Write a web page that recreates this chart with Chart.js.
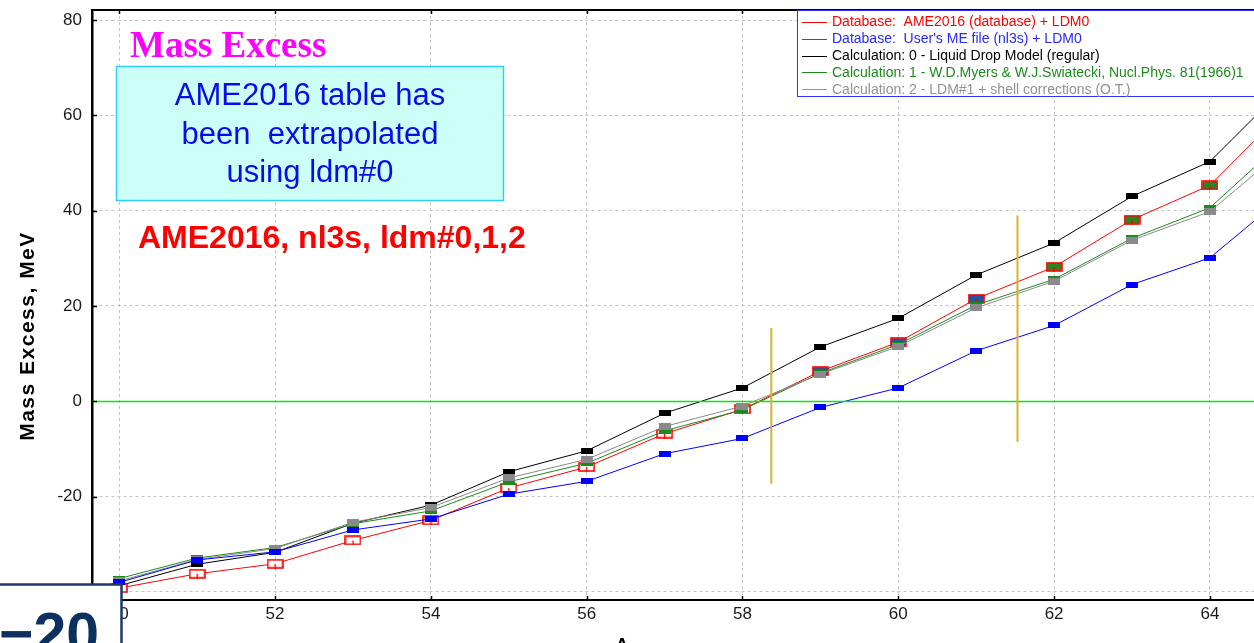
<!DOCTYPE html>
<html>
<head>
<meta charset="utf-8">
<title>Mass Excess</title>
<script src="https://cdn.jsdelivr.net/npm/chart.js@4/dist/chart.umd.min.js"></script>
<style>
  html, body { margin: 0; padding: 0; background: #ffffff; overflow: hidden; }
  #wrap { width: 1254px; height: 643px; position: relative; }
</style>
</head>
<body>
<div id="wrap"><canvas id="chart" width="1254" height="643"></canvas></div>
<script>
// Mass number A
const massNumbers = [50, 51, 52, 53, 54, 55, 56, 57, 58, 59, 60, 61, 62, 63, 64, 65];

// Mass excess, MeV
const ame2016Ldm0      = [-39.2, -36.2, -34.1, -29.2, -25.0, -18.2, -13.8, -6.8, -1.7, 6.3, 12.4, 21.5, 28.2, 38.1, 45.3, 61.7];
const nl3sLdm0         = [-38.0, -33.3, -31.6, -27.0, -24.7, -19.5, -16.8, -11.0, -7.8, -1.3, 2.8, 10.6, 15.9, 24.5, 30.1, 43.7];
const ldm0Regular      = [-38.7, -34.2, -31.7, -25.6, -21.8, -14.8, -10.4, -2.5, 2.8, 11.4, 17.4, 26.5, 33.2, 43.0, 50.3, 66.6];
const ldm1Myers        = [-37.2, -32.9, -30.7, -25.7, -23.0, -16.9, -13.0, -6.2, -1.8, 5.9, 11.9, 20.2, 25.6, 34.2, 40.6, 55.5];
const ldm2ShellCorr    = [-37.7, -33.2, -30.9, -25.4, -22.3, -16.1, -12.2, -5.3, -1.0, 5.7, 11.5, 19.6, 25.2, 33.8, 39.8, 53.6];

// Origin of each AME2016 point: measured table value or extrapolated
const ame2016Origin = ['table', 'table', 'table', 'table', 'table', 'table', 'table', 'table', 'table',
                       'nl3s', 'nl3s', 'nl3s', 'ldm', 'ldm', 'ldm', 'ldm'];

const seriesLabels = [
  'Database:  AME2016 (database) + LDM0',
  "Database:  User's ME file (nl3s) + LDM0",
  'Calculation: 0 - Liquid Drop Model (regular)',
  'Calculation: 1 - W.D.Myers & W.J.Swiatecki, Nucl.Phys. 81(1966)1',
  'Calculation: 2 - LDM#1 + shell corrections (O.T.)'
];

// Vertical marker segments: [A, lower ME, upper ME]
const markerSegments = [[58.37, -17.3, 15.4], [61.53, -8.5, 39.0]];

const yTickValues = [-40, -20, 0, 20, 40, 60, 80];
const xTickValues = [50, 52, 54, 56, 58, 60, 62, 64];

const COLORS = {
  red: '#ff0000', blue: '#0000ff', black: '#000000', green: '#1e8a1e', gray: '#8a8a8a'
};
const LEGEND_TEXT = ['#ff0000', '#2828ff', '#000000', '#1e8a1e', '#929292'];
const LEGEND_LINE = ['#ff0000', '#3a3aff', '#000000', '#1e8a1e', '#929292'];

function solidMark(w, h, fill) {
  const c = document.createElement('canvas');
  c.width = w; c.height = h;
  const g = c.getContext('2d');
  g.fillStyle = fill;
  g.fillRect(0, 0, w, h);
  return c;
}
function openMark(fill) {
  const c = document.createElement('canvas');
  c.width = 17; c.height = 10;
  const g = c.getContext('2d');
  g.fillStyle = fill;
  g.fillRect(1, 1, 15, 8);
  g.strokeStyle = '#ff0000';
  g.lineWidth = 1.6;
  g.strokeRect(1, 1, 15, 8);
  g.lineWidth = 1.4;
  g.beginPath();
  g.moveTo(8.5, 5);
  g.lineTo(8.5, 10);
  g.stroke();
  return c;
}
const redMarks = { table: openMark('#ffffff'), nl3s: openMark('#1f56a6'), ldm: openMark('#238a23') };

function pts(values) {
  return massNumbers.map((a, i) => ({ x: a, y: values[i] }));
}

const datasets = [
  { label: seriesLabels[0], data: pts(ame2016Ldm0), borderColor: COLORS.red, order: 4,
    pointStyle: ame2016Origin.map(o => redMarks[o]) },
  { label: seriesLabels[1], data: pts(nl3sLdm0), borderColor: COLORS.blue, order: 1,
    pointStyle: solidMark(12, 6, COLORS.blue) },
  { label: seriesLabels[2], data: pts(ldm0Regular), borderColor: COLORS.black, order: 5,
    pointStyle: solidMark(12, 6, COLORS.black) },
  { label: seriesLabels[3], data: pts(ldm1Myers), borderColor: COLORS.green, order: 3,
    pointStyle: solidMark(12, 6, COLORS.green) },
  { label: seriesLabels[4], data: pts(ldm2ShellCorr), borderColor: COLORS.gray, order: 2,
    pointStyle: solidMark(12, 7, COLORS.gray) }
].map(d => Object.assign({ borderWidth: 1, tension: 0, fill: false, pointRadius: 6 }, d));

const decorations = {
  id: 'decorations',
  afterDatasetsDraw(chart) {
    const { ctx, chartArea: ca, scales: { x, y } } = chart;
    ctx.save();
    ctx.setLineDash([]);
    // zero level
    const y0 = Math.round(y.getPixelForValue(0)) + 0.5;
    ctx.strokeStyle = '#00ee00';
    ctx.lineWidth = 1.3;
    ctx.beginPath();
    ctx.moveTo(ca.left, y0);
    ctx.lineTo(ca.right, y0);
    ctx.stroke();
    // vertical marker segments
    ctx.strokeStyle = '#d2b42a';
    ctx.lineWidth = 2;
    markerSegments.forEach(([a, lo, hi]) => {
      const px = x.getPixelForValue(a);
      ctx.beginPath();
      ctx.moveTo(px, y.getPixelForValue(lo));
      ctx.lineTo(px, y.getPixelForValue(hi));
      ctx.stroke();
    });
    ctx.restore();
  },
  afterDraw(chart) {
    const { ctx, chartArea: ca, scales: { x, y } } = chart;
    ctx.save();

    // frame: top edge and inward tick marks
    ctx.strokeStyle = '#000';
    ctx.lineWidth = 2;
    ctx.beginPath();
    ctx.moveTo(ca.left, ca.top);
    ctx.lineTo(ca.right, ca.top);
    ctx.stroke();
    ctx.lineWidth = 1.5;
    xTickValues.forEach(v => {
      const px = Math.round(x.getPixelForValue(v)) + 0.5;
      ctx.beginPath();
      ctx.moveTo(px, ca.bottom); ctx.lineTo(px, ca.bottom - 4);
      ctx.moveTo(px, ca.top); ctx.lineTo(px, ca.top + 4);
      ctx.stroke();
    });
    yTickValues.forEach(v => {
      const py = Math.round(y.getPixelForValue(v)) + 0.5;
      ctx.beginPath();
      ctx.moveTo(ca.left, py); ctx.lineTo(ca.left + 5, py);
      ctx.stroke();
    });

    // axis titles
    ctx.fillStyle = '#000';
    ctx.font = 'bold 21px "Liberation Sans", Arial, sans-serif';
    ctx.textAlign = 'center';
    ctx.textBaseline = 'middle';
    ctx.save();
    ctx.translate(28, 336);
    ctx.rotate(-Math.PI / 2);
    if ('letterSpacing' in ctx) ctx.letterSpacing = '1.5px';
    ctx.fillText('Mass Excess, MeV', 0, 0);
    ctx.restore();
    ctx.font = 'bold 18px "Liberation Sans", Arial, sans-serif';
    ctx.textBaseline = 'alphabetic';
    ctx.fillText('A', 622, 651);

    // heading
    ctx.textAlign = 'left';
    ctx.fillStyle = '#ff00ff';
    ctx.font = 'bold 37px "Liberation Serif", "Times New Roman", serif';
    ctx.fillText('Mass Excess', 130, 57);

    // note box
    ctx.fillStyle = '#ccfff6';
    ctx.fillRect(116, 66, 388, 135);
    ctx.strokeStyle = '#33ccf5';
    ctx.lineWidth = 1.5;
    ctx.strokeRect(116.5, 66.5, 387, 134);
    ctx.fillStyle = '#0a0aee';
    ctx.font = '31px "Liberation Sans", Arial, sans-serif';
    ctx.textAlign = 'center';
    ctx.fillText('AME2016 table has', 310, 105);
    ctx.fillText('been  extrapolated', 310, 144);
    ctx.fillText('using ldm#0', 310, 182);

    ctx.textAlign = 'left';
    ctx.fillStyle = '#ff0000';
    ctx.font = 'bold 32px "Liberation Sans", Arial, sans-serif';
    ctx.fillText('AME2016, nl3s, ldm#0,1,2', 138, 248);

    // legend
    ctx.fillStyle = '#ffffff';
    ctx.fillRect(797, 10, 470, 87);
    ctx.strokeStyle = '#3030ff';
    ctx.lineWidth = 1;
    ctx.strokeRect(797.5, 10.5, 470, 86);
    ctx.font = '14px "Liberation Sans", Arial, sans-serif';
    ctx.textBaseline = 'middle';
    chart.data.datasets.forEach((ds, i) => {
      const ry = 21.7 + i * 16.9;
      ctx.strokeStyle = LEGEND_LINE[i];
      ctx.beginPath();
      ctx.moveTo(802, Math.round(ry) + 0.5);
      ctx.lineTo(827, Math.round(ry) + 0.5);
      ctx.stroke();
      ctx.fillStyle = LEGEND_TEXT[i];
      ctx.fillText(ds.label, 832, ry + 0.5);
    });

    // corner label panel
    ctx.fillStyle = '#ffffff';
    ctx.fillRect(-6, 584, 128, 70);
    ctx.strokeStyle = '#1d3a66';
    ctx.lineWidth = 2.5;
    ctx.strokeRect(-6, 584.5, 127.5, 70);
    ctx.fillStyle = '#0c315f';
    ctx.font = 'bold 59px "Liberation Sans", Arial, sans-serif';
    ctx.textBaseline = 'alphabetic';
    ctx.fillText('\u221220', -1, 654);

    ctx.restore();
  }
};

const gridCommon = {
  drawTicks: false,
  lineWidth: 1
};

function noEdgePadding(s) {
  s.paddingTop = 0; s.paddingBottom = 0; s.paddingLeft = 0; s.paddingRight = 0;
}

new Chart(document.getElementById('chart'), {
  type: 'line',
  data: { datasets },
  options: {
    responsive: false,
    animation: false,
    events: [],
    layout: { autoPadding: false, padding: { top: 10, left: 0, right: 0, bottom: 0 } },
    plugins: { legend: { display: false }, tooltip: { enabled: false } },
    scales: {
      x: {
        type: 'linear',
        min: 49.65,
        max: 64.566,
        afterFit(s) { s.height = 43; noEdgePadding(s); },
        afterBuildTicks(s) { s.ticks = xTickValues.map(v => ({ value: v })); },
        ticks: {
          includeBounds: false,
          padding: 4,
          color: '#1a1a1a',
          font: { family: '"Liberation Sans", Arial, sans-serif', size: 17 },
          maxRotation: 0,
          autoSkip: false
        },
        grid: Object.assign({ color: '#c4c4c4' }, gridCommon),
        border: { color: '#000', width: 2, dash: [3, 3] }
      },
      y: {
        type: 'linear',
        min: -41.7,
        max: 82.1,
        afterFit(s) { s.width = 92; noEdgePadding(s); },
        afterBuildTicks(s) { s.ticks = yTickValues.map(v => ({ value: v })); },
        ticks: {
          includeBounds: false,
          padding: 10,
          color: '#1a1a1a',
          font: { family: '"Liberation Sans", Arial, sans-serif', size: 17 }
        },
        grid: Object.assign({
          color: c => (c.tick && c.tick.value === 0 ? 'rgba(0,0,0,0)' : '#c4c4c4')
        }, gridCommon),
        border: { color: '#000', width: 2.5, dash: [3, 3] }
      }
    }
  },
  plugins: [decorations]
});
</script>
</body>
</html>
